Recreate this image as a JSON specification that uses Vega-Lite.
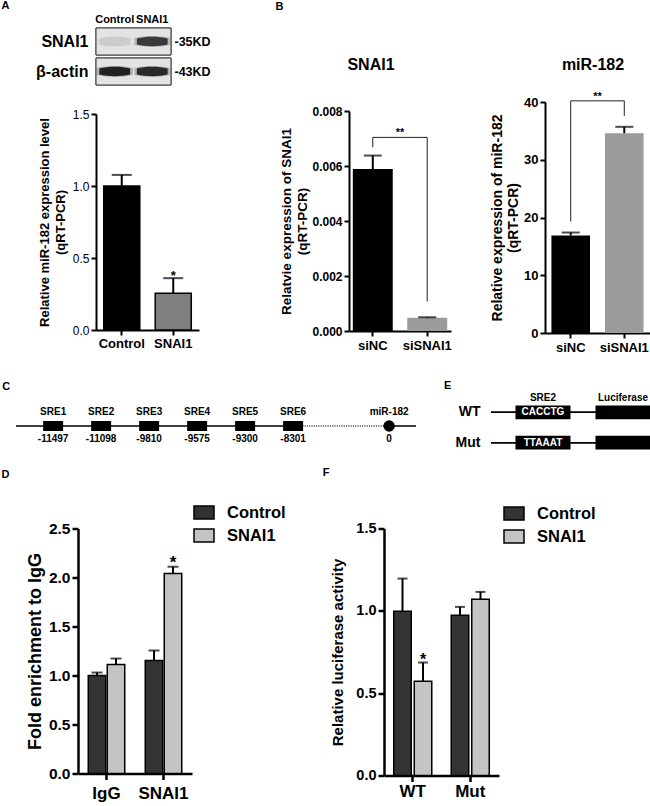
{
  "$schema": "https://vega.github.io/schema/vega-lite/v6.json",
  "background": "white",
  "padding": {"left": 0, "top": 0, "right": 0, "bottom": 0},
  "config": {
    "font": "Liberation Sans",
    "view": {"stroke": null},
    "axis": {"grid": false, "domainColor": "black", "tickColor": "black", "labelColor": "black", "titleColor": "black", "labelFont": "Liberation Sans", "titleFont": "Liberation Sans", "labelFontWeight": "bold", "titleFontWeight": "bold", "domainWidth": 2, "tickWidth": 2, "tickSize": 5, "labelOverlap": false},
    "axisX": {"labelAngle": 0},
    "title": {"font": "Liberation Sans", "fontWeight": "bold", "color": "black", "fontSize": 11, "anchor": "start"},
    "text": {"font": "Liberation Sans", "color": "black"}
  },
  "datasets": {
    "blot": [
      {"protein": "SNAI1", "marker": "-35KD", "lane": "Control", "intensity": 0.1},
      {"protein": "SNAI1", "marker": "-35KD", "lane": "SNAI1", "intensity": 0.85},
      {"protein": "β-actin", "marker": "-43KD", "lane": "Control", "intensity": 1.0},
      {"protein": "β-actin", "marker": "-43KD", "lane": "SNAI1", "intensity": 0.95}
    ],
    "mirA": [
      {"group": "Control", "mean": 1.0, "upper": 1.077},
      {"group": "SNAI1", "mean": 0.256, "upper": 0.36, "sig": "*"}
    ],
    "titleB1": [{"label": "SNAI1"}],
    "titleB2": [{"label": "miR-182"}],
    "snaiKD": [
      {"group": "siNC", "mean": 0.00589, "upper": 0.00638},
      {"group": "siSNAI1", "mean": 0.00048, "upper": 0.0005}
    ],
    "bracketB1": [
      {"group": "siNC", "y": 0.00668, "step": 1},
      {"group": "siNC", "y": 0.00704, "step": 2},
      {"group": "siSNAI1", "y": 0.00704, "step": 3},
      {"group": "siSNAI1", "y": 0.00107, "step": 4}
    ],
    "sigB1": [{"label": "**", "y": 0.00704}],
    "mirKD": [
      {"group": "siNC", "mean": 16.9, "upper": 17.4},
      {"group": "siSNAI1", "mean": 34.6, "upper": 35.7}
    ],
    "bracketB2": [
      {"group": "siNC", "y": 19.3, "step": 1},
      {"group": "siNC", "y": 40.2, "step": 2},
      {"group": "siSNAI1", "y": 40.2, "step": 3},
      {"group": "siSNAI1", "y": 37.6, "step": 4}
    ],
    "sigB2": [{"label": "**", "y": 40.2}],
    "sre": [
      {"locus": "miR-182 upstream", "element": "SRE1", "pos": "-11497", "kind": "SRE"},
      {"locus": "miR-182 upstream", "element": "SRE2", "pos": "-11098", "kind": "SRE"},
      {"locus": "miR-182 upstream", "element": "SRE3", "pos": "-9810", "kind": "SRE"},
      {"locus": "miR-182 upstream", "element": "SRE4", "pos": "-9575", "kind": "SRE"},
      {"locus": "miR-182 upstream", "element": "SRE5", "pos": "-9300", "kind": "SRE"},
      {"locus": "miR-182 upstream", "element": "SRE6", "pos": "-8301", "kind": "SRE"},
      {"locus": "miR-182 upstream", "element": "miR-182", "pos": "0", "kind": "miRNA"}
    ],
    "gap": [{"locus": "miR-182 upstream", "from": "SRE6", "to": "miR-182"}],
    "reporter": [
      {"construct": "WT", "element": "SRE2", "seq": "CACCTG"},
      {"construct": "WT", "element": "Luciferase"},
      {"construct": "Mut", "element": "SRE2", "seq": "TTAAAT"},
      {"construct": "Mut", "element": "Luciferase"}
    ],
    "chip": [
      {"ip": "IgG", "group": "Control", "mean": 1.0, "upper": 1.03},
      {"ip": "IgG", "group": "SNAI1", "mean": 1.112, "upper": 1.173},
      {"ip": "SNAI1", "group": "Control", "mean": 1.153, "upper": 1.255},
      {"ip": "SNAI1", "group": "SNAI1", "mean": 2.04, "upper": 2.11, "sig": "*"}
    ],
    "luc": [
      {"reporter": "WT", "group": "Control", "mean": 0.998, "upper": 1.196},
      {"reporter": "WT", "group": "SNAI1", "mean": 0.573, "upper": 0.686, "sig": "*"},
      {"reporter": "Mut", "group": "Control", "mean": 0.973, "upper": 1.024},
      {"reporter": "Mut", "group": "SNAI1", "mean": 1.071, "upper": 1.115}
    ]
  },
  "resolve": {"scale": {"x": "independent", "y": "independent", "fill": "independent", "opacity": "independent", "fillOpacity": "independent", "xOffset": "independent"}, "legend": {"fill": "independent"}},
  "spacing": 26,
  "vconcat": [
    {
      "spacing": 0,
      "resolve": {"scale": {"x": "independent", "y": "independent", "fill": "independent", "opacity": "independent", "fillOpacity": "independent"}},
      "hconcat": [
        {"width": 1, "height": 1, "view": {"fill": "white", "stroke": null}, "data": {"values": []}, "mark": "point"},
        {
          "spacing": 64,
          "resolve": {"scale": {"x": "independent", "y": "independent", "fill": "independent", "opacity": "independent", "fillOpacity": "independent"}},
          "hconcat": [
            {
              "title": {"text": "A", "dx": -34, "offset": 2},
              "spacing": 22,
              "resolve": {"scale": {"x": "independent", "y": "independent", "fill": "independent", "opacity": "independent", "fillOpacity": "independent"}},
              "vconcat": [
                {
                  "width": 75,
                  "height": 57,
                  "data": {"name": "blot"},
                  "layer": [
                    {
                      "mark": {"type": "rect", "fill": "#e3e3e3", "stroke": "#3a3a3a", "strokeWidth": 1},
                      "encoding": {
                        "x": {"datum": 0, "type": "quantitative", "scale": {"domain": [0, 1], "nice": false, "zero": false}, "axis": null},
                        "x2": {"datum": 1},
                        "y": {"field": "marker", "type": "nominal", "sort": null, "scale": {"type": "band", "paddingInner": 0.1, "paddingOuter": 0}, "axis": {"orient": "right", "title": null, "domain": false, "ticks": false, "labelPadding": 3, "labelFontSize": 12.5}}
                      }
                    },
                    {
                      "mark": {"type": "point", "shape": "M-1,-0.2C-0.4,-0.34 0.4,-0.34 1,-0.2L1,0.2C0.4,0.34 -0.4,0.34 -1,0.2Z", "size": 1300, "filled": true, "fill": "#1a1a1a", "strokeWidth": 0},
                      "encoding": {
                        "x": {"field": "lane", "type": "nominal", "sort": null, "scale": {"type": "band", "paddingInner": 0, "paddingOuter": 0}, "axis": {"orient": "top", "title": null, "domain": false, "ticks": false, "labelPadding": 4, "labelFontSize": 11}},
                        "y": {"field": "protein", "type": "nominal", "sort": null, "scale": {"type": "band", "paddingInner": 0.1, "paddingOuter": 0}, "axis": {"orient": "left", "title": null, "domain": false, "ticks": false, "labelPadding": 8, "labelFontSize": 16}},
                        "fillOpacity": {"field": "intensity", "type": "quantitative", "scale": {"domain": [0, 1], "range": [0, 0.35]}, "legend": null}
                      }
                    },
                    {
                      "mark": {"type": "point", "shape": "M-1,-0.2C-0.4,-0.34 0.4,-0.34 1,-0.2L1,0.2C0.4,0.34 -0.4,0.34 -1,0.2Z", "size": 950, "filled": true, "fill": "#111111", "strokeWidth": 0},
                      "encoding": {
                        "x": {"field": "lane", "type": "nominal", "sort": null, "scale": {"type": "band", "paddingInner": 0, "paddingOuter": 0}, "axis": null},
                        "y": {"field": "protein", "type": "nominal", "sort": null, "scale": {"type": "band", "paddingInner": 0.1, "paddingOuter": 0}, "axis": null},
                        "opacity": {"field": "intensity", "type": "quantitative", "scale": {"domain": [0, 1], "range": [0, 0.9]}, "legend": null}
                      }
                    }
                  ],
                  "resolve": {"scale": {"x": "independent", "y": "independent"}}
                },
                {
                  "width": 103,
                  "height": 216,
                  "data": {"name": "mirA"},
                  "encoding": {
                    "x": {"field": "group", "type": "nominal", "sort": null, "scale": {"paddingInner": 0.3, "paddingOuter": 0.15}, "axis": {"title": null, "labelFontSize": 13, "labelPadding": 2}}
                  },
                  "layer": [
                    {
                      "mark": {"type": "bar", "stroke": "black", "strokeWidth": 1.5},
                      "encoding": {
                        "y": {"field": "mean", "type": "quantitative", "scale": {"domain": [0, 1.5], "nice": false}, "axis": {"title": ["Relative miR-182 expression level", "(qRT-PCR)"], "titleFontSize": 13, "titleLineHeight": 16, "titlePadding": 5, "labelFontSize": 12, "labelFontWeight": "normal", "format": ".1f", "values": [0, 0.5, 1, 1.5], "labelPadding": 2}},
                        "fill": {"field": "group", "type": "nominal", "sort": null, "scale": {"range": ["#000000", "#7f7f7f"]}, "legend": null}
                      }
                    },
                    {
                      "mark": {"type": "rule", "strokeWidth": 2, "color": "black"},
                      "encoding": {"y": {"field": "mean", "type": "quantitative"}, "y2": {"field": "upper"}}
                    },
                    {
                      "mark": {"type": "tick", "thickness": 2, "size": 20, "color": "black"},
                      "encoding": {"y": {"field": "upper", "type": "quantitative"}}
                    },
                    {
                      "transform": [{"filter": "datum.sig"}],
                      "mark": {"type": "text", "baseline": "alphabetic", "dy": 2, "fontSize": 13, "fontWeight": "bold"},
                      "encoding": {"y": {"field": "upper", "type": "quantitative"}, "text": {"field": "sig"}}
                    }
                  ]
                }
              ]
            },
            {
              "title": {"text": "B", "dx": -4.5, "offset": 16.5},
              "spacing": 38,
              "resolve": {"scale": {"x": "independent", "y": "independent", "fill": "independent"}},
              "hconcat": [
                {
                  "spacing": 3,
                  "resolve": {"scale": {"x": "independent", "y": "independent", "fill": "independent"}},
                  "vconcat": [
                    {"width": 44, "height": 74, "data": {"name": "titleB1"}, "mark": {"type": "text", "fontSize": 16, "fontWeight": "bold"}, "encoding": {"text": {"field": "label"}}},
                    {
                      "width": 102,
                      "height": 220,
                      "layer": [
                        {
                          "data": {"name": "snaiKD"},
                          "mark": {"type": "bar"},
                          "encoding": {
                            "x": {"field": "group", "type": "nominal", "sort": null, "scale": {"paddingInner": 0.266, "paddingOuter": 0.07}, "axis": {"title": null, "labelFontSize": 13, "labelPadding": 3}},
                            "y": {"field": "mean", "type": "quantitative", "scale": {"domain": [0, 0.008], "nice": false}, "axis": {"title": ["Relatvie expression of SNAI1", "(qRT-PCR)"], "titleFontSize": 13.5, "titleLineHeight": 16, "titlePadding": 2, "labelFontSize": 12, "format": ".3f", "values": [0, 0.002, 0.004, 0.006, 0.008], "labelPadding": 2}},
                            "fill": {"field": "group", "type": "nominal", "sort": null, "scale": {"range": ["#000000", "#9b9b9b"]}, "legend": null}
                          }
                        },
                        {
                          "data": {"name": "snaiKD"},
                          "mark": {"type": "rule", "strokeWidth": 2, "color": "black"},
                          "encoding": {"x": {"field": "group", "type": "nominal", "sort": null}, "y": {"field": "mean", "type": "quantitative"}, "y2": {"field": "upper"}}
                        },
                        {
                          "data": {"name": "snaiKD"},
                          "mark": {"type": "tick", "thickness": 2, "size": 18, "color": "black"},
                          "encoding": {"x": {"field": "group", "type": "nominal", "sort": null}, "y": {"field": "upper", "type": "quantitative"}}
                        },
                        {
                          "data": {"name": "bracketB1"},
                          "mark": {"type": "line", "color": "#222222", "strokeWidth": 1},
                          "encoding": {"x": {"field": "group", "type": "nominal", "sort": null}, "y": {"field": "y", "type": "quantitative"}, "order": {"field": "step", "type": "quantitative"}}
                        },
                        {
                          "data": {"name": "sigB1"},
                          "mark": {"type": "text", "baseline": "bottom", "dy": 1, "fontSize": 11, "fontWeight": "bold"},
                          "encoding": {"y": {"field": "y", "type": "quantitative"}, "text": {"field": "label"}}
                        }
                      ]
                    }
                  ]
                },
                {
                  "spacing": 14,
                  "resolve": {"scale": {"x": "independent", "y": "independent", "fill": "independent"}},
                  "vconcat": [
                    {"width": 96, "height": 48, "data": {"name": "titleB2"}, "mark": {"type": "text", "fontSize": 16, "fontWeight": "bold", "dy": 13}, "encoding": {"text": {"field": "label"}}},
                    {
                      "width": 105,
                      "height": 231,
                      "layer": [
                        {
                          "data": {"name": "mirKD"},
                          "mark": {"type": "bar"},
                          "encoding": {
                            "x": {"field": "group", "type": "nominal", "sort": null, "scale": {"paddingInner": 0.28, "paddingOuter": 0.12}, "axis": {"title": null, "labelFontSize": 13, "labelPadding": 3}},
                            "y": {"field": "mean", "type": "quantitative", "scale": {"domain": [0, 40], "nice": false}, "axis": {"title": ["Relative expression of miR-182", "(qRT-PCR)"], "titleFontSize": 14, "titleLineHeight": 16, "titlePadding": 3, "labelFontSize": 13, "values": [0, 10, 20, 30, 40], "labelPadding": 2}},
                            "fill": {"field": "group", "type": "nominal", "sort": null, "scale": {"range": ["#000000", "#9b9b9b"]}, "legend": null}
                          }
                        },
                        {
                          "data": {"name": "mirKD"},
                          "mark": {"type": "rule", "strokeWidth": 2, "color": "black"},
                          "encoding": {"x": {"field": "group", "type": "nominal", "sort": null}, "y": {"field": "mean", "type": "quantitative"}, "y2": {"field": "upper"}}
                        },
                        {
                          "data": {"name": "mirKD"},
                          "mark": {"type": "tick", "thickness": 2, "size": 18, "color": "black"},
                          "encoding": {"x": {"field": "group", "type": "nominal", "sort": null}, "y": {"field": "upper", "type": "quantitative"}}
                        },
                        {
                          "data": {"name": "bracketB2"},
                          "mark": {"type": "line", "color": "#222222", "strokeWidth": 1},
                          "encoding": {"x": {"field": "group", "type": "nominal", "sort": null}, "y": {"field": "y", "type": "quantitative"}, "order": {"field": "step", "type": "quantitative"}}
                        },
                        {
                          "data": {"name": "sigB2"},
                          "mark": {"type": "text", "baseline": "bottom", "dy": 1, "fontSize": 11, "fontWeight": "bold"},
                          "encoding": {"y": {"field": "y", "type": "quantitative"}, "text": {"field": "label"}}
                        }
                      ]
                    }
                  ]
                }
              ]
            }
          ]
        }
      ]
    },
    {
      "spacing": 15.5,
      "resolve": {"scale": {"x": "independent", "y": "independent", "fill": "independent", "xOffset": "independent"}, "legend": {"fill": "independent"}},
      "vconcat": [
        {
          "spacing": 1,
          "resolve": {"scale": {"x": "independent", "y": "independent"}},
          "hconcat": [
            {"width": 1, "height": 1, "view": {"fill": "white", "stroke": null}, "data": {"values": []}, "mark": "point"},
            {
              "spacing": 27,
              "resolve": {"scale": {"x": "independent", "y": "independent"}},
              "hconcat": [
                {
                  "width": 400,
                  "height": 44,
                  "title": {"text": "C", "dx": -13, "offset": 12.5},
                  "layer": [
                    {
                      "data": {"name": "sre"},
                      "transform": [{"aggregate": [{"op": "count", "as": "n"}], "groupby": ["locus"]}],
                      "mark": {"type": "rule", "color": "black", "strokeWidth": 1.5},
                      "encoding": {"y": {"field": "locus", "type": "nominal", "scale": {"type": "point", "padding": 0.5}, "axis": null}}
                    },
                    {
                      "data": {"name": "gap"},
                      "mark": {"type": "rule", "color": "white", "strokeWidth": 4},
                      "encoding": {
                        "x": {"field": "from", "type": "nominal", "scale": {"type": "point", "domain": ["SRE1", "SRE2", "SRE3", "SRE4", "SRE5", "SRE6", "…", "miR-182"], "padding": 0.667, "align": 0.58}, "axis": null},
                        "x2": {"field": "to"},
                        "y": {"field": "locus", "type": "nominal"}
                      }
                    },
                    {
                      "data": {"name": "gap"},
                      "mark": {"type": "rule", "color": "#333333", "strokeWidth": 1.3, "strokeDash": [1, 1.3]},
                      "encoding": {"x": {"field": "from", "type": "nominal"}, "x2": {"field": "to"}, "y": {"field": "locus", "type": "nominal"}}
                    },
                    {
                      "data": {"name": "sre"},
                      "transform": [{"filter": "datum.kind === 'SRE'"}],
                      "mark": {"type": "point", "shape": "M-1,-0.5H1V0.5H-1Z", "size": 400, "filled": true, "color": "black", "opacity": 1},
                      "encoding": {"x": {"field": "element", "type": "nominal"}, "y": {"field": "locus", "type": "nominal"}}
                    },
                    {
                      "data": {"name": "sre"},
                      "transform": [{"filter": "datum.kind === 'miRNA'"}],
                      "mark": {"type": "point", "shape": "circle", "size": 130, "filled": true, "color": "black", "opacity": 1},
                      "encoding": {"x": {"field": "element", "type": "nominal"}, "y": {"field": "locus", "type": "nominal"}}
                    },
                    {
                      "data": {"name": "sre"},
                      "mark": {"type": "text", "dy": -14, "fontSize": 10, "fontWeight": "bold"},
                      "encoding": {"x": {"field": "element", "type": "nominal"}, "y": {"field": "locus", "type": "nominal"}, "text": {"field": "element"}}
                    },
                    {
                      "data": {"name": "sre"},
                      "mark": {"type": "text", "dy": 13, "fontSize": 10, "fontWeight": "bold"},
                      "encoding": {"x": {"field": "element", "type": "nominal"}, "y": {"field": "locus", "type": "nominal"}, "text": {"field": "pos"}}
                    }
                  ]
                },
                {
                  "width": 159.5,
                  "height": 47,
                  "title": {"text": "E", "dx": -11, "offset": 1},
                  "data": {"name": "reporter"},
                  "encoding": {
                    "y": {"field": "construct", "type": "nominal", "sort": null, "scale": {"type": "band", "paddingInner": 0.55, "paddingOuter": 0.05}, "axis": {"title": null, "domain": false, "ticks": false, "labelPadding": 11, "labelFontSize": 14}}
                  },
                  "layer": [
                    {"mark": {"type": "rule", "color": "black", "strokeWidth": 1.5}},
                    {
                      "mark": {"type": "rect", "color": "black"},
                      "encoding": {"x": {"field": "element", "type": "nominal", "sort": null, "scale": {"type": "band", "paddingInner": 0.3125, "paddingOuter": 0.153, "align": 1}, "axis": {"orient": "top", "title": null, "domain": false, "ticks": false, "labelPadding": 2, "labelFontSize": 10}}}
                    },
                    {
                      "transform": [{"filter": "datum.seq"}],
                      "mark": {"type": "text", "color": "white", "fontSize": 10, "fontWeight": "bold"},
                      "encoding": {"x": {"field": "element", "type": "nominal", "sort": null}, "text": {"field": "seq"}}
                    }
                  ]
                }
              ]
            }
          ]
        },
        {
          "spacing": 0,
          "resolve": {"scale": {"x": "independent", "y": "independent", "fill": "independent", "xOffset": "independent"}, "legend": {"fill": "independent"}},
          "hconcat": [
            {"width": 1, "height": 1, "view": {"fill": "white", "stroke": null}, "data": {"values": []}, "mark": "point"},
            {
              "spacing": 36,
              "resolve": {"scale": {"x": "independent", "y": "independent", "fill": "independent", "xOffset": "independent"}, "legend": {"fill": "independent"}},
              "hconcat": [
                {
                  "width": 114,
                  "height": 245,
                  "title": {"text": "D", "dx": -25, "offset": 21.5},
                  "data": {"name": "chip"},
                  "encoding": {
                    "x": {"field": "ip", "type": "nominal", "sort": null, "scale": {"paddingInner": 0, "paddingOuter": 0}, "axis": {"title": null, "labelFontSize": 17, "labelPadding": 6, "tickSize": 6, "domainWidth": 2.5, "tickWidth": 2.5}},
                    "xOffset": {"field": "group", "type": "nominal", "sort": null, "scale": {"paddingInner": 0.08, "paddingOuter": 0.54}}
                  },
                  "layer": [
                    {
                      "mark": {"type": "bar", "stroke": "black", "strokeWidth": 1.5},
                      "encoding": {
                        "y": {"field": "mean", "type": "quantitative", "scale": {"domain": [0, 2.5], "nice": false}, "axis": {"title": "Fold enrichment to IgG", "titleFontSize": 18, "titlePadding": 4, "labelFontSize": 15.5, "labelPadding": 2, "tickSize": 6, "values": [0, 0.5, 1, 1.5, 2, 2.5], "format": ".1f", "domainWidth": 2.5, "tickWidth": 2.5}},
                        "fill": {"field": "group", "type": "nominal", "sort": null, "scale": {"range": ["#333333", "#c4c4c4"]}, "legend": {"orient": "none", "legendX": 115, "legendY": -27, "title": null, "symbolType": "M-1,-0.65H1V0.65H-1Z", "symbolSize": 400, "symbolStrokeColor": "black", "symbolStrokeWidth": 1.5, "symbolOpacity": 1, "labelFontSize": 16.5, "labelFontWeight": "bold", "labelFont": "Liberation Sans", "labelColor": "black", "labelOffset": 12, "rowPadding": 2, "padding": 0}}
                      }
                    },
                    {
                      "mark": {"type": "rule", "strokeWidth": 2, "color": "black"},
                      "encoding": {"y": {"field": "mean", "type": "quantitative"}, "y2": {"field": "upper"}}
                    },
                    {
                      "mark": {"type": "tick", "thickness": 2, "size": 11, "color": "black"},
                      "encoding": {"y": {"field": "upper", "type": "quantitative"}}
                    },
                    {
                      "transform": [{"filter": "datum.sig"}],
                      "mark": {"type": "text", "baseline": "alphabetic", "dy": 1, "fontSize": 17, "fontWeight": "bold"},
                      "encoding": {"y": {"field": "upper", "type": "quantitative"}, "text": {"field": "sig"}}
                    }
                  ]
                },
                {
                  "width": 115,
                  "height": 247,
                  "title": {"text": "F", "dx": -8, "offset": 24.5},
                  "data": {"name": "luc"},
                  "encoding": {
                    "x": {"field": "reporter", "type": "nominal", "sort": null, "scale": {"domain": ["WT", "Mut"], "paddingInner": 0, "paddingOuter": 0}, "axis": {"title": null, "labelFontSize": 17, "labelPadding": 2, "tickSize": 6, "domainWidth": 2.5, "tickWidth": 2.5}},
                    "xOffset": {"field": "group", "type": "nominal", "sort": null, "scale": {"paddingInner": 0.146, "paddingOuter": 0.475}}
                  },
                  "layer": [
                    {
                      "mark": {"type": "bar", "stroke": "black", "strokeWidth": 1.5},
                      "encoding": {
                        "y": {"field": "mean", "type": "quantitative", "scale": {"domain": [0, 1.5], "nice": false}, "axis": {"title": "Relative luciferase activity", "titleFontSize": 15, "titlePadding": 10, "labelFontSize": 14.5, "labelPadding": 2, "tickSize": 6, "values": [0, 0.5, 1, 1.5], "format": ".1f", "domainWidth": 2.5, "tickWidth": 2.5}},
                        "fill": {"field": "group", "type": "nominal", "sort": null, "scale": {"range": ["#333333", "#c4c4c4"]}, "legend": {"orient": "none", "legendX": 119, "legendY": -26, "title": null, "symbolType": "M-1,-0.65H1V0.65H-1Z", "symbolSize": 400, "symbolStrokeColor": "black", "symbolStrokeWidth": 1.5, "symbolOpacity": 1, "labelFontSize": 16.5, "labelFontWeight": "bold", "labelFont": "Liberation Sans", "labelColor": "black", "labelOffset": 12, "rowPadding": 2, "padding": 0}}
                      }
                    },
                    {
                      "mark": {"type": "rule", "strokeWidth": 2, "color": "black"},
                      "encoding": {"y": {"field": "mean", "type": "quantitative"}, "y2": {"field": "upper"}}
                    },
                    {
                      "mark": {"type": "tick", "thickness": 2, "size": 10, "color": "black"},
                      "encoding": {"y": {"field": "upper", "type": "quantitative"}}
                    },
                    {
                      "transform": [{"filter": "datum.sig"}],
                      "mark": {"type": "text", "baseline": "alphabetic", "dy": 2, "fontSize": 16, "fontWeight": "bold"},
                      "encoding": {"y": {"field": "upper", "type": "quantitative"}, "text": {"field": "sig"}}
                    }
                  ]
                }
              ]
            }
          ]
        }
      ]
    }
  ]
}
